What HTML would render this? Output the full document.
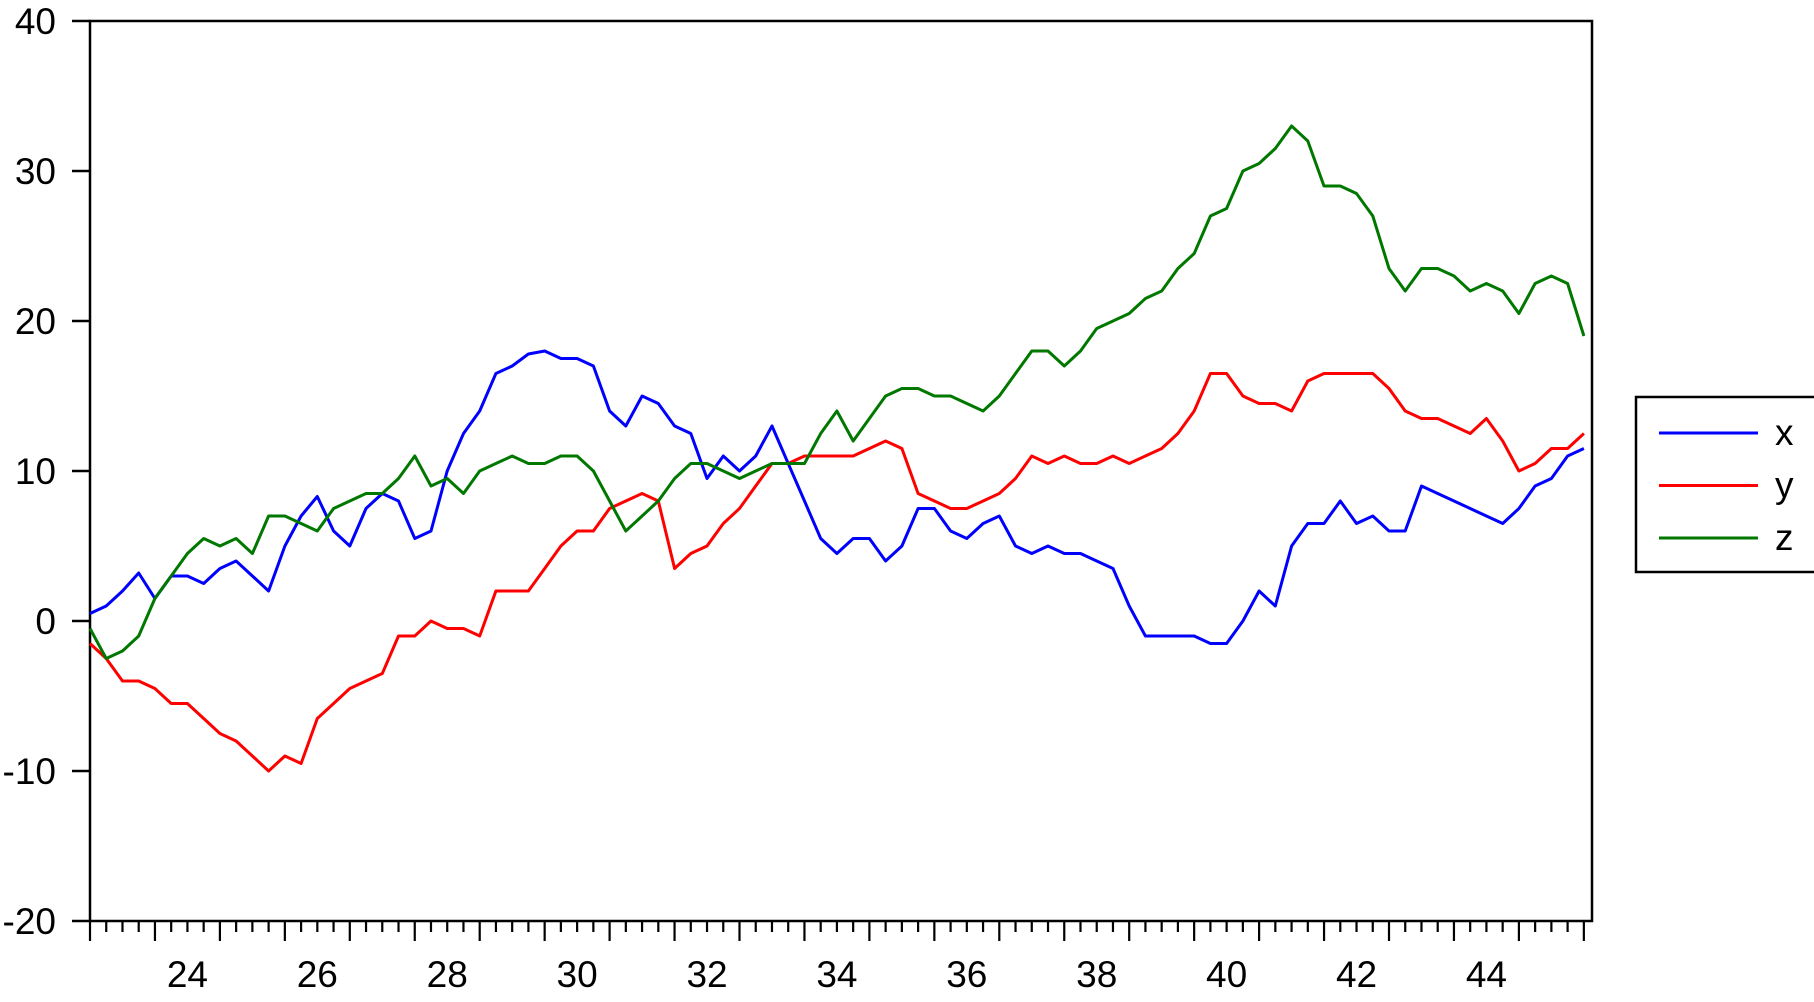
<!DOCTYPE html>
<html><head><meta charset="utf-8"><style>
html,body{margin:0;padding:0;background:#fff;}
svg{display:block;font-family:"Liberation Sans",Arial,sans-serif;}
</style></head><body>
<svg id="chart" width="1814" height="1002" viewBox="0 0 1814 1002" xmlns="http://www.w3.org/2000/svg">
<g id="axes"></g>
<g id="series"></g>
<g id="legend"></g>
</svg>
<script>
const times = [23.0,23.25,23.5,23.75,24.0,24.25,24.5,24.75,25.0,25.25,25.5,25.75,26.0,26.25,26.5,26.75,27.0,27.25,27.5,27.75,28.0,28.25,28.5,28.75,29.0,29.25,29.5,29.75,30.0,30.25,30.5,30.75,31.0,31.25,31.5,31.75,32.0,32.25,32.5,32.75,33.0,33.25,33.5,33.75,34.0,34.25,34.5,34.75,35.0,35.25,35.5,35.75,36.0,36.25,36.5,36.75,37.0,37.25,37.5,37.75,38.0,38.25,38.5,38.75,39.0,39.25,39.5,39.75,40.0,40.25,40.5,40.75,41.0,41.25,41.5,41.75,42.0,42.25,42.5,42.75,43.0,43.25,43.5,43.75,44.0,44.25,44.5,44.75,45.0,45.25,45.5,45.75,46.0];
const seriesX = [0.5,1,2,3.2,1.5,3,3,2.5,3.5,4,3,2,5,7,8.3,6,5,7.5,8.5,8,5.5,6,10,12.5,14,16.5,17,17.8,18,17.5,17.5,17,14,13,15,14.5,13,12.5,9.5,11,10,11,13,10.5,8,5.5,4.5,5.5,5.5,4,5,7.5,7.5,6,5.5,6.5,7,5,4.5,5,4.5,4.5,4,3.5,1,-1,-1,-1,-1,-1.5,-1.5,0,2,1,5,6.5,6.5,8,6.5,7,6,6,9,8.5,8,7.5,7,6.5,7.5,9,9.5,11,11.5];
const seriesY = [-1.5,-2.5,-4,-4,-4.5,-5.5,-5.5,-6.5,-7.5,-8,-9,-10,-9,-9.5,-6.5,-5.5,-4.5,-4,-3.5,-1,-1,0,-0.5,-0.5,-1,2,2,2,3.5,5,6,6,7.5,8,8.5,8,3.5,4.5,5,6.5,7.5,9,10.5,10.5,11,11,11,11,11.5,12,11.5,8.5,8,7.5,7.5,8,8.5,9.5,11,10.5,11,10.5,10.5,11,10.5,11,11.5,12.5,14,16.5,16.5,15,14.5,14.5,14,16,16.5,16.5,16.5,16.5,15.5,14,13.5,13.5,13,12.5,13.5,12,10,10.5,11.5,11.5,12.5];
const seriesZ = [-0.5,-2.5,-2,-1,1.5,3,4.5,5.5,5,5.5,4.5,7,7,6.5,6,7.5,8,8.5,8.5,9.5,11,9,9.5,8.5,10,10.5,11,10.5,10.5,11,11,10,8,6,7,8,9.5,10.5,10.5,10,9.5,10,10.5,10.5,10.5,12.5,14,12,13.5,15,15.5,15.5,15,15,14.5,14,15,16.5,18,18,17,18,19.5,20,20.5,21.5,22,23.5,24.5,27,27.5,30,30.5,31.5,33,32,29,29,28.5,27,23.5,22,23.5,23.5,23,22,22.5,22,20.5,22.5,23,22.5,19];
const yTicks = [40,30,20,10,0,-10,-20];
const xLabels = [24,26,28,30,32,34,36,38,40,42,44];
const seriesNames = ["x","y","z"];

const NS="http://www.w3.org/2000/svg";
const L=90,R=1592,T=21,B=921,T0=23,YW=64.95;
const xs=t=>L+(t-T0)*YW;
const ys=v=>T+(40-v)*15;
function mk(tag,attrs,parent){const e=document.createElementNS(NS,tag);for(const k in attrs)e.setAttribute(k,attrs[k]);parent.appendChild(e);return e;}
const axes=document.getElementById('axes');
const frame=mk('rect',{x:L,y:T,width:R-L,height:B-T,fill:'none',stroke:'#000','stroke-width':2.5},axes);


yTicks.forEach(v=>{
  const tk=mk('line',{x1:72,x2:L,y1:ys(v),y2:ys(v),stroke:'#000','stroke-width':2.5},axes);
  
  
  const tx=mk('text',{x:56,y:ys(v)+13,'text-anchor':'end','font-size':37},axes);
  tx.textContent=v;
  
  
});
for(let q=0;q<=92;q++){
  const t=T0+q/4, major=(q%4===0);
  const tk=mk('line',{x1:xs(t),x2:xs(t),y1:B,y2:B+(major?20:11),stroke:'#000','stroke-width':2.2},axes);
  
  
}
xLabels.forEach(yr=>{
  const tx=mk('text',{x:xs(yr+0.5),y:987,'text-anchor':'middle','font-size':37},axes);
  tx.textContent=yr;
  
  
});
const sg=document.getElementById('series');
const cols=['#0000ff','#ff0000','#007800'];
[seriesX,seriesY,seriesZ].forEach((arr,i)=>{
  const d=arr.map((v,j)=>(j?'L':'M')+xs(times[j]).toFixed(1)+','+ys(v).toFixed(1)).join(' ');
  const p=mk('path',{d:d,fill:'none',stroke:cols[i],'stroke-width':3,'stroke-linejoin':'round'},sg);
  
  
});
const lg=document.getElementById('legend');
const box=mk('rect',{x:1636,y:397,width:200,height:175,fill:'#fff',stroke:'#000','stroke-width':2.5},lg);


seriesNames.forEach((n,i)=>{
  const y=433+i*52.5;
  const ln=mk('line',{x1:1659,x2:1758,y1:y,y2:y,stroke:cols[i],'stroke-width':3},lg);
  
  
  const tx=mk('text',{x:1775,y:y+12,'font-size':37},lg);
  tx.textContent=n;
  
  
});
</script>
</body></html>
